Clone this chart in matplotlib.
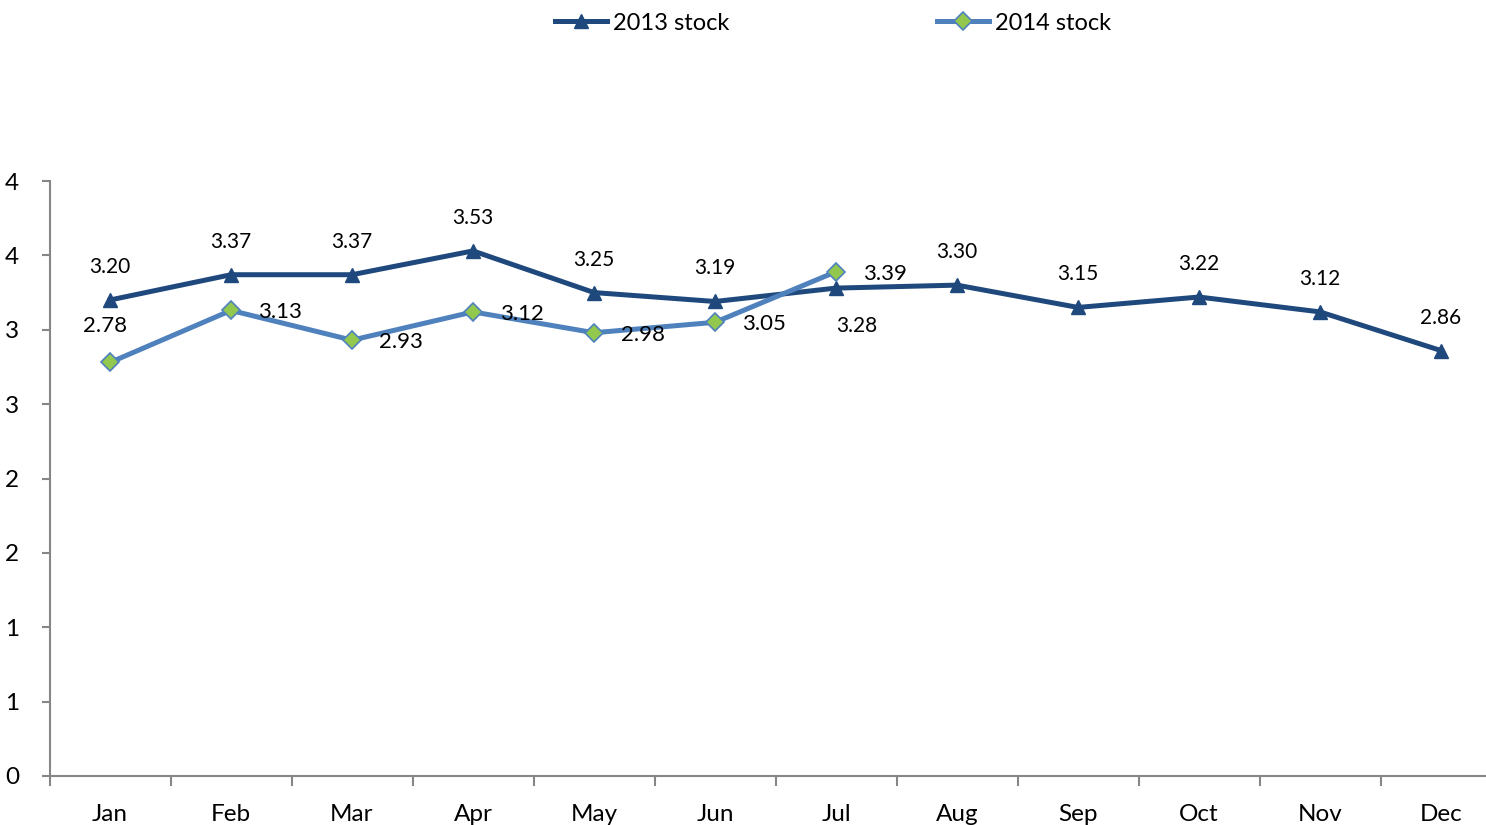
import matplotlib
matplotlib.use("Agg")
import matplotlib.pyplot as plt
from matplotlib.ticker import FixedLocator, FuncFormatter
import math

months = ["Jan", "Feb", "Mar", "Apr", "May", "Jun", "Jul", "Aug", "Sep", "Oct", "Nov", "Dec"]
stock_2013 = [3.20, 3.37, 3.37, 3.53, 3.25, 3.19, 3.28, 3.30, 3.15, 3.22, 3.12, 2.86]
stock_2014 = [2.78, 3.13, 2.93, 3.12, 2.98, 3.05, 3.39]
y_ticks = [0, 0.5, 1, 1.5, 2, 2.5, 3, 3.5, 4]

# label offsets in pixels (style)
off_2013 = [(0, 33)] * 12
off_2013[6] = (21, -38)
off_2014 = [(49, -2)] * 7
off_2014[0] = (-5, 36)

plt.rcParams['font.family'] = ['Lato', 'DejaVu Sans']

c13 = "#1F497D"
c14 = "#4F81BD"
cg = "#92C84E"
axc = "#868686"

fig = plt.figure(figsize=(14.86, 8.25), dpi=100)
W, H = 1486, 825
left, right, bottom, top = 49.5, 1501.5, 776, 181
ax = fig.add_axes([left / W, 1 - bottom / H, (right - left) / W, (bottom - top) / H])

x13 = list(range(len(stock_2013)))
x14 = list(range(len(stock_2014)))
ax.plot(x13, stock_2013, color=c13, lw=3.6, marker="^", markersize=10,
        markerfacecolor=c13, markeredgecolor=c13, label="2013 stock", zorder=3)
ax.plot(x14, stock_2014, color=c14, lw=3.6, marker="D", markersize=9.5,
        markerfacecolor=cg, markeredgecolor=c14, markeredgewidth=1.2, label="2014 stock", zorder=4)

for i, v in enumerate(stock_2013):
    ax.annotate(f"{v:.2f}", (x13[i], v), xytext=off_2013[i], textcoords="offset pixels",
                ha="center", va="center", fontsize=15, color="black", zorder=5)
for i, v in enumerate(stock_2014):
    ax.annotate(f"{v:.2f}", (x14[i], v), xytext=off_2014[i], textcoords="offset pixels",
                ha="center", va="center", fontsize=16, color="black", zorder=5)

ax.set_xlim(-0.5, len(months) - 0.5)
ax.set_ylim(0, 4)
ax.yaxis.set_major_locator(FixedLocator(y_ticks))
ax.yaxis.set_major_formatter(FuncFormatter(lambda v, p: f"{int(math.floor(v + 0.5))}"))
ax.set_xticks(range(len(months)))
ax.set_xticklabels(months)
ax.set_xticks([i - 0.5 for i in range(len(months) + 1)], minor=True)
ax.tick_params(axis="x", which="major", length=0, pad=20, labelsize=17.5)
ax.tick_params(axis="x", which="minor", length=7, color=axc, width=1.5)
ax.tick_params(axis="y", length=6, color=axc, width=1.5, pad=16, labelsize=17.5)
for s in ["top", "right"]:
    ax.spines[s].set_visible(False)
for s in ["left", "bottom"]:
    ax.spines[s].set_color(axc)
    ax.spines[s].set_linewidth(1.5)

fig.legend(loc="center", bbox_to_anchor=(0.5605, 1 - 23 / H), ncol=2, frameon=False,
           fontsize=17, columnspacing=8.8, handlelength=2.2, handletextpad=0.25)

fig.savefig("out.png", dpi=100)
